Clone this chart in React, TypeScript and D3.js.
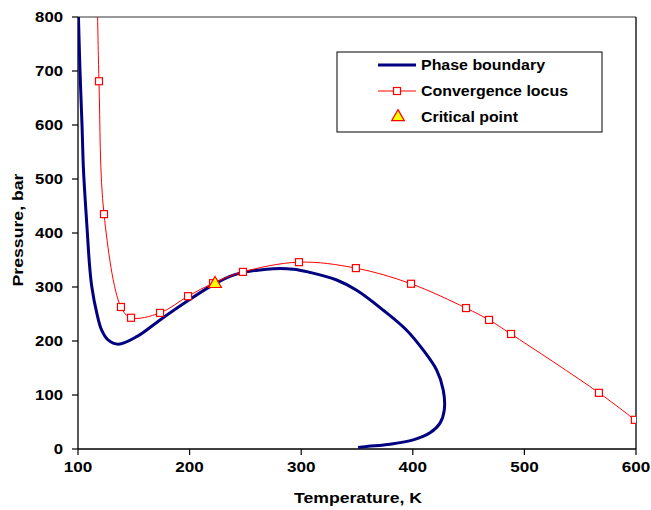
import React from "react";
import * as d3 from "d3";

const xTicks = [100, 200, 300, 400, 500, 600];
const yTicks = [0, 100, 200, 300, 400, 500, 600, 700, 800];

// Phase boundary (temperature K, pressure bar)
const phaseT = [100, 100.4, 101.8, 103.6, 104.8, 106.5, 108.4, 110.2, 112.4, 116.8, 121.2, 126.9, 136.1, 152.6, 173.5, 197.4, 218.3, 239.2, 269.1, 292.9, 307.9, 331.8, 349.7, 373.6, 394.5, 409.4, 421.4, 427.3, 428.2, 424.4, 415.4, 400.4, 379.6, 360, 351];
const phaseP = [830, 800, 700, 600, 522, 460, 400, 344, 300, 252, 220, 202, 194, 208, 239, 273, 300.6, 322, 333, 333, 327, 313, 294, 257, 220, 183, 146, 109, 72, 48, 30, 17, 9, 5, 3];

// Convergence locus
const locusT = [116.8, 118.8, 123.3, 138.5, 147.5, 173.5, 198.6, 221, 247.8, 298, 349, 398.4, 447.7, 468.3, 488, 566.8, 599];
const locusP = [900, 681, 435, 263, 243, 252, 283, 307, 328, 346, 335, 306, 261, 239, 213, 104, 54];

// Critical point
const critT = [222.8];
const critP = [304];

const legendLabels = ["Phase boundary", "Convergence locus", "Critical point"];

const W = 651, H = 510;
const L = 78, R = 636, T = 17, B = 449;
const FONT = "Arial, 'Liberation Sans', sans-serif";

export default function App() {
  const x = d3.scaleLinear().domain([100, 600]).range([L, R]);
  const y = d3.scaleLinear().domain([0, 800]).range([B, T]);

  const phase = phaseT.map((t, i) => [t, phaseP[i]] as [number, number]);
  const locus = locusT.map((t, i) => [t, locusP[i]] as [number, number]);

  const line = d3
    .line<[number, number]>()
    .x((d) => x(d[0]))
    .y((d) => y(d[1]))
    .curve(d3.curveCatmullRom.alpha(0.5));

  const tri = d3.symbol().type(d3.symbolTriangle).size(70)();

  return (
    <div style={{ position: "absolute", left: 0, top: 0 }}>
      <svg width={W} height={H} style={{ display: "block", background: "#fff" }}>
        <defs>
          <clipPath id="plotclip">
            <rect x={L} y={T} width={R - L} height={B - T} />
          </clipPath>
        </defs>
        <rect x={0} y={0} width={W} height={H} fill="#fff" />
        {/* frame */}
        <line x1={L} y1={T} x2={R} y2={T} stroke="#333" strokeWidth={1} />
        <line x1={R} y1={T} x2={R} y2={B} stroke="#000" strokeWidth={1.3} />
        <line x1={L} y1={T} x2={L} y2={B} stroke="#000" strokeWidth={1.3} />
        <line x1={L} y1={B} x2={R} y2={B} stroke="#000" strokeWidth={1.3} />
        {/* y ticks */}
        {yTicks.map((v) => (
          <g key={"y" + v}>
            <line x1={L - 6} x2={L} y1={y(v)} y2={y(v)} stroke="#000" strokeWidth={1.2} />
            <text
              x={63}
              y={y(v) + 5}
              textAnchor="end"
              fontFamily={FONT}
              fontWeight="bold"
              fontSize={14}
              textLength={String(v).length * 9.3}
              lengthAdjust="spacingAndGlyphs"
              fill="#000"
            >
              {v}
            </text>
          </g>
        ))}
        {/* x ticks */}
        {xTicks.map((v) => (
          <g key={"x" + v}>
            <line x1={x(v)} x2={x(v)} y1={B} y2={B + 6} stroke="#000" strokeWidth={1.2} />
            <text
              x={x(v)}
              y={472}
              textAnchor="middle"
              fontFamily={FONT}
              fontWeight="bold"
              fontSize={14}
              textLength={String(v).length * 9.5}
              lengthAdjust="spacingAndGlyphs"
              fill="#000"
            >
              {v}
            </text>
          </g>
        ))}
        {/* axis titles */}
        <text
          x={358}
          y={503}
          textAnchor="middle"
          fontFamily={FONT}
          fontWeight="bold"
          fontSize={14.5}
          textLength={128}
          lengthAdjust="spacingAndGlyphs"
        >
          Temperature, K
        </text>
        <text
          transform={`translate(23,230) rotate(-90)`}
          textAnchor="middle"
          fontFamily={FONT}
          fontWeight="bold"
          fontSize={14.5}
          textLength={113}
          lengthAdjust="spacingAndGlyphs"
        >
          Pressure, bar
        </text>
        {/* data */}
        <g clipPath="url(#plotclip)">
          <path d={line(phase) || ""} fill="none" stroke="#000080" strokeWidth={3} strokeLinejoin="round" />
          <path d={line(locus) || ""} fill="none" stroke="#ff0000" strokeWidth={1} />
          {locus.map((d, i) => (
            <rect
              key={"m" + i}
              x={x(d[0]) - 3.5}
              y={y(d[1]) - 3.5}
              width={7}
              height={7}
              fill="#fff"
              stroke="#ff0000"
              strokeWidth={1.2}
            />
          ))}
          {critT.map((t, i) => (
            <path
              key={"c" + i}
              d={tri || ""}
              transform={`translate(${x(t)},${y(critP[i]) - 1})`}
              fill="#ffff00"
              stroke="#ff0000"
              strokeWidth={1.2}
            />
          ))}
        </g>
        {/* legend */}
        <rect x={337} y={52} width={265} height={80} fill="#fff" stroke="#000" strokeWidth={1} />
        <line x1={378} x2={416} y1={65} y2={65} stroke="#000080" strokeWidth={3} />
        <line x1={378} x2={416} y1={91} y2={91} stroke="#ff0000" strokeWidth={1} />
        <rect x={393.5} y={87.5} width={7} height={7} fill="#fff" stroke="#ff0000" strokeWidth={1.2} />
        <path d={tri || ""} transform="translate(398,117)" fill="#ffff00" stroke="#ff0000" strokeWidth={1.2} />
        {legendLabels.map((s, i) => (
          <text
            key={s}
            x={421}
            y={70 + i * 26}
            fontFamily={FONT}
            fontWeight="bold"
            fontSize={14}
            textLength={[124, 147, 97][i]}
            lengthAdjust="spacingAndGlyphs"
          >
            {s}
          </text>
        ))}
      </svg>
    </div>
  );
}
